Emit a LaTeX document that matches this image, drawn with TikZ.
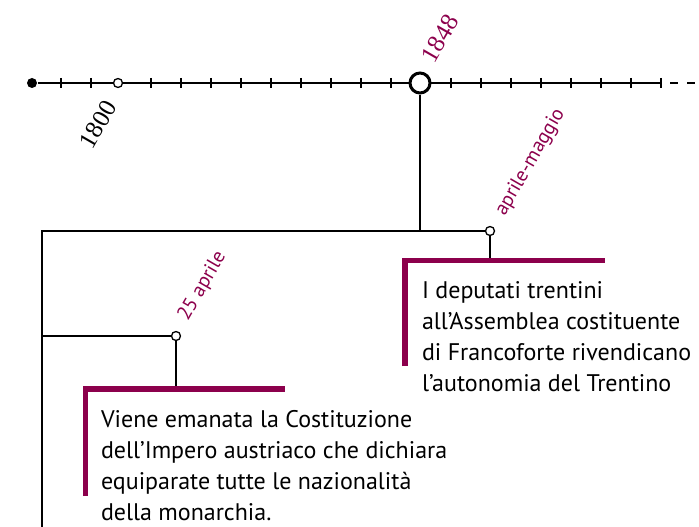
\documentclass[tikz,border=0pt]{standalone}
\usepackage{fontspec}
\setmainfont{Liberation Serif}
\newfontfamily\testo{PT Sans}
\usetikzlibrary{positioning}
\definecolor{porpora}{RGB}{140,0,76}

\begin{document}
\begin{tikzpicture}[x=1pt,y=-1pt,line width=2pt,
  tacca/.style={circle,draw,fill=white,inner sep=0pt,minimum size=9pt,line width=1.3pt},
  anno/.style={inner sep=0pt,rotate=60,font=\fontsize{25}{25}\selectfont},
  data/.style={inner sep=0pt,rotate=60,text=porpora,font=\testo\fontsize{20}{20}\selectfont},
  barra/.style={draw=porpora,line width=5.5pt},
  evento/.style={inner sep=0pt,anchor=north west,align=left,font=\testo\fontsize{24}{31}\selectfont}]
\useasboundingbox (0,0) rectangle (699,527);
% asse del tempo
\node[circle,fill,inner sep=0pt,minimum size=10pt] (inizio) at (32,83) {};
\coordinate (fine) at (661,83);
\draw (inizio) -- (fine);
\draw[dash pattern=on 8pt off 9pt] (670,83) -- (699,83);
\foreach \x in {61,91,151,181,...,391,451,481,...,661}
  \draw (\x,78) -- (\x,88);
\node[tacca] (c1800) at (118,83) {};
\node[circle,draw,fill=white,inner sep=0pt,minimum size=20pt,line width=3pt] (c1848) at (420,83) {};
\node[anno,anchor=east] (t1800) at (111,102) {1800};
\node[anno,anchor=west,text=porpora] (t1848) at (427,61) {1848};
% rami
\coordinate (nodo) at (420,231);
\coordinate (angolo) at (42,231);
\coordinate (ramo) at (42,336);
\coordinate (fondo) at (42,527);
\node[tacca] (apmag) at (490,231) {};
\node[tacca] (a25) at (176,336) {};
\draw (c1848) -- (nodo);
\draw (fondo) -- (angolo) -- (apmag);
\draw (ramo) -- (a25);
\node[data,anchor=west] (lapmag) at (500,215) {aprile-maggio};
\node[data,anchor=west] (la25) at (183,320) {25 aprile};
% riquadri
\coordinate (b1) at (405,260.5);
\coordinate (b2) at (85.5,389);
\draw (apmag) -- (apmag |- b1);
\draw (a25) -- (a25 |- b2);
\draw[barra] (405,366) -- (b1) -- (605,260.5);
\draw[barra] (85.5,496) -- (b2) -- (285,389);
\node[evento] (ev1) at (421,281) {I deputati trentini\\all’Assemblea costituente\\di Francoforte rivendicano\\l’autonomia del Trentino};
\node[evento] (ev2) at (100,409) {Viene emanata la Costituzione\\dell’Impero austriaco che dichiara\\equiparate tutte le nazionalità\\della monarchia.};
\end{tikzpicture}
\end{document}
